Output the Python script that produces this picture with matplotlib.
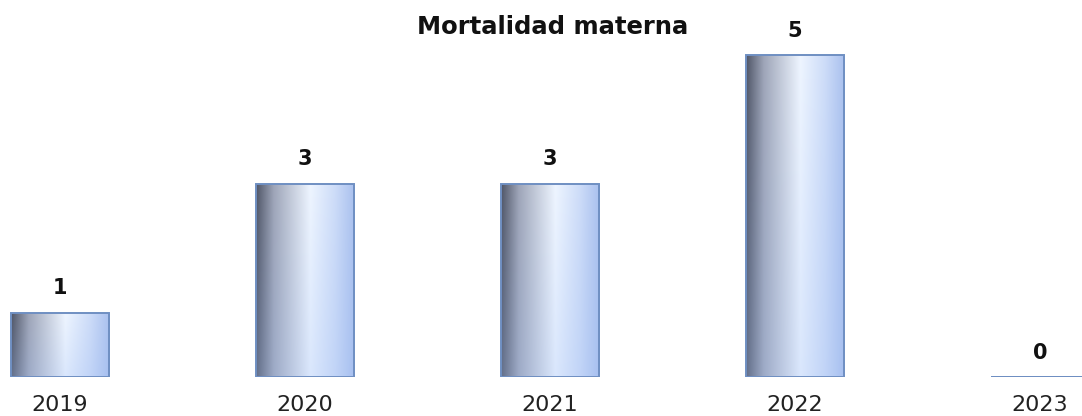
import numpy as np
import matplotlib.pyplot as plt
from matplotlib.colors import LinearSegmentedColormap

years = ['2019', '2020', '2021', '2022', '2023']
deaths = [1, 3, 3, 5, 0]

bar_width = 0.404
edge_color = '#6f8fc2'

# horizontal shading of the cylinder-like bars
shade = LinearSegmentedColormap.from_list('shade', [
    (0.00, '#4f5566'),
    (0.18, '#9ea5b8'),
    (0.55, '#eef5ff'),
    (0.80, '#cddcf8'),
    (1.00, '#a9c0ee'),
])


def draw_bar(ax, x, h):
    rect = ax.bar(x, h, width=bar_width, color='none', edgecolor=edge_color,
                  linewidth=1.4, zorder=3)[0]
    if h <= 0:
        return
    nx, ny = 256, 64
    grad = shade(np.linspace(0, 1, nx))[:, :3]
    img = np.repeat(grad[None, :, :], ny, axis=0)
    # slightly bluer toward the base
    t = np.linspace(0, 1, ny)[:, None, None]
    blue = np.array([0.62, 0.74, 0.96])
    img = img * (1 - 0.25 * t) + blue * 0.25 * t
    im = ax.imshow(img, extent=(x - bar_width / 2, x + bar_width / 2, 0, h),
                   origin='upper', aspect='auto', zorder=2,
                   interpolation='bilinear')
    im.set_clip_path(rect)


fig = plt.figure(figsize=(10.82, 4.16), dpi=100)
ax = fig.add_axes([0, 39 / 416, 1, 1 - 39 / 416])

x = np.arange(len(years))
for xi, h in zip(x, deaths):
    draw_bar(ax, xi, h)
    ax.text(xi, h + 0.38, str(h), ha='center', va='center',
            fontsize=15, fontweight='bold', color='#111111')

ax.set_xlim(-60 / 245, 1022 / 245)
ax.set_ylim(0, 377 / 64.4)
ax.axis('off')

for xi, lab in zip(x, years):
    ax.text(xi, -0.44, lab, ha='center', va='center', fontsize=16,
            color='#222222', clip_on=False)

fig.text(553 / 1082, 1 - 27 / 416, 'Mortalidad materna', ha='center',
         va='center', fontsize=17.5, fontweight='bold', color='#111111')

fig.savefig('out.png', dpi=100)
